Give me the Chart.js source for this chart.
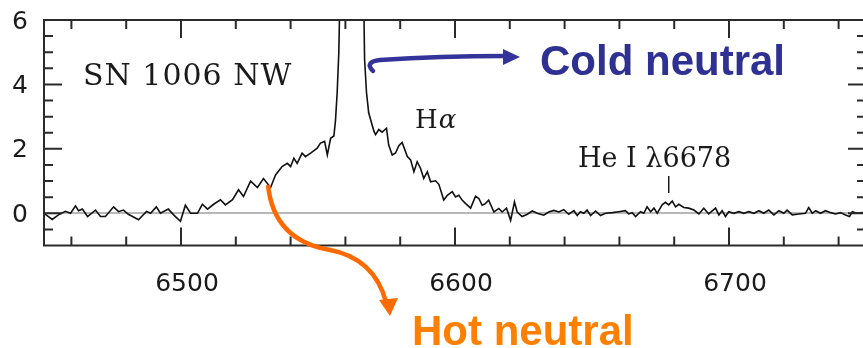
<!DOCTYPE html>
<html>
<head>
<meta charset="utf-8">
<script src="https://cdn.jsdelivr.net/npm/chart.js@4/dist/chart.umd.min.js"></script>
<style>
  html, body { margin: 0; padding: 0; background: #fff; overflow: hidden; }
  #wrap { position: absolute; left: 0; top: 0; width: 870px; height: 348px; }
</style>
</head>
<body>
<div id="wrap"><canvas id="spectrum" width="870" height="348"></canvas></div>
<script>
// SN 1006 NW spectrum around H-alpha

const wavelength = [
    6450, 6453, 6455.3, 6457.8, 6459.7, 6461.5, 6462.6, 6464, 6465.9, 6468.8,
    6470.6, 6472.4, 6475.4, 6477.2, 6479, 6480.8, 6484.5, 6487.4, 6488.9, 6491,
    6492.5, 6495.4, 6497.3, 6499.8, 6501.6, 6503.5, 6506, 6507.8, 6509.7, 6511.9,
    6514.4, 6516.2, 6518.8, 6521, 6522.8, 6525.4, 6527.9, 6530.1, 6532.7, 6534.5,
    6536.9, 6538.8, 6540, 6541.2, 6542.4, 6544.2, 6545.4, 6547.3, 6549.7, 6550.9,
    6552.4, 6553.4, 6554.6, 6555.8, 6556.4, 6557, 6557.6, 6558.5, 6560, 6562.5,
    6565, 6566.3, 6567, 6567.7, 6568.5, 6570.4, 6571, 6572.2, 6573.4, 6575,
    6575.8, 6577.1, 6578.3, 6579.5, 6580.7, 6582.6, 6583.8, 6585, 6586.2, 6587.4,
    6588.6, 6589.9, 6591.1, 6592.9, 6594.1, 6595.9, 6597.2, 6599, 6600.2, 6601.4,
    6602.6, 6603.8, 6605.7, 6607.5, 6608.7, 6609.9, 6611.1, 6612.3, 6614.2, 6616,
    6617.2, 6618.8, 6620.3, 6621.7, 6622.7, 6624.5, 6626.4, 6628.2, 6630, 6632.4,
    6634.2, 6636.1, 6637.9, 6639.7, 6641.5, 6643.4, 6644.6, 6645.8, 6647, 6648.2,
    6649.5, 6651.3, 6653.1, 6654.9, 6657.4, 6659.8, 6662.2, 6663.4, 6664.7, 6665.9,
    6667.7, 6668.9, 6670.1, 6671.4, 6672.6, 6673.8, 6675.6, 6676.8, 6678, 6679.3,
    6680.5, 6681.7, 6683.5, 6685.3, 6687.2, 6689, 6690.8, 6692.6, 6695.1, 6696.3,
    6697.5, 6698.7, 6699.9, 6701.8, 6703.6, 6705.4, 6707.2, 6709.1, 6710.9, 6712.7,
    6714.5, 6716.4, 6718.2, 6720, 6721.2, 6723.1, 6725.5, 6727.9, 6729.1, 6730.4,
    6731.6, 6733.4, 6735.2, 6737.1, 6738.9, 6740.7, 6742.5, 6744, 6745, 6746.7,
    6748.5, 6750,
];

const flux = [
    0, -0.19, -0.05, 0.06, 0, 0.23, 0.08, 0.13, -0.1, 0.1,
    -0.1, -0.1, 0.2, 0.05, 0.1, -0.03, -0.2, 0.06, 0, 0.2,
    0, 0.13, -0.05, -0.25, 0.25, 0, 0, 0.28, 0.13, 0.28,
    0.42, 0.26, 0.42, 0.73, 0.52, 1.0, 0.8, 1.08, 0.8, 1.19,
    1.45, 1.55, 1.45, 1.71, 1.55, 1.87, 1.76, 1.87, 2.02, 2.18,
    2.23, 1.81, 2.33, 2.4, 2.9, 3.75, 5.0, 9, 18, 30,
    18, 9, 4.78, 3.75, 3.12, 2.55, 2.44, 2.6, 2.52, 2.64,
    2.12, 1.81, 1.87, 2.1, 2.2, 1.76, 1.66, 1.29, 1.6, 1.4,
    1.08, 1.29, 0.98, 1.01, 0.9, 0.41, 0.56, 0.67, 0.51, 0.56,
    0.41, 0.31, 0.16, 0.53, 0.46, 0.25, 0.3, 0.41, 0.04, 0.15,
    0.04, 0.16, -0.22, 0.35, 0.04, -0.1, -0.03, 0.07, 0, -0.06,
    0.04, 0.09, 0.04, 0.11, -0.03, 0.08, -0.07, 0.05, 0, 0.1,
    -0.07, 0.07, -0.07, 0, 0.02, 0.05, 0.08, -0.02, 0.02, -0.1,
    0.05, 0, 0.2, 0.05, 0.16, 0, 0.26, 0.34, 0.26, 0.38,
    0.2, 0.28, 0.18, 0.16, 0.1, -0.02, 0.16, -0.02, 0.16, -0.05,
    0.08, -0.1, 0.05, 0, 0.05, 0, 0.05, 0, 0.08, 0,
    0.1, -0.05, 0.08, 0, 0.1, -0.05, -0.02, 0, 0.18, 0,
    0.08, 0, 0.08, 0.02, -0.02, 0.02, -0.05, -0.1, 0.05, 0,
    0.02, 0,
];

const xTickLabels = [6500, 6600, 6700];
const yTickLabels = [0, 2, 4, 6];
const heLine = 6678;

// inward ticks on all four sides, plus the frame
const frameTicks = {
    id: 'frameTicks',
    afterDraw(chart) {
        const c = chart.ctx;
        const a = chart.chartArea;
        const xs = chart.scales.x;
        const ys = chart.scales.y;
        c.save();
        c.strokeStyle = '#2a2a2a';
        c.lineWidth = 2;
        c.beginPath();
        for (let v = 6460; v < 6750; v += 20) {
            const px = xs.getPixelForValue(v);
            const len = v % 100 === 0 ? 18 : 9;
            c.moveTo(px, a.bottom); c.lineTo(px, a.bottom - len);
            c.moveTo(px, a.top); c.lineTo(px, a.top + len);
        }
        for (let v = -0.5; v < 6; v += 0.5) {
            const py = ys.getPixelForValue(v);
            const len = v % 2 === 0 ? 18 : 9;
            c.moveTo(a.left, py); c.lineTo(a.left + len, py);
            c.moveTo(a.right, py); c.lineTo(a.right - len, py);
        }
        c.stroke();
        c.strokeRect(a.left, a.top, a.right - a.left, a.bottom - a.top);
        c.restore();
    }
};

// labels and arrows
const notes = {
    id: 'notes',
    afterDraw(chart) {
        const c = chart.ctx;
        const xs = chart.scales.x;
        c.save();
        c.fillStyle = '#1a1a1a';
        c.textBaseline = 'alphabetic';
        c.textAlign = 'left';
        c.font = '30px "DejaVu Serif"';
        c.letterSpacing = '1px';
        c.fillText('SN 1006 NW', 83, 85);
        c.letterSpacing = '0px';
        c.font = '26px "DejaVu Serif"';
        c.fillText('H', 415, 128);
        const hw = c.measureText('H').width;
        c.font = 'italic 26px "DejaVu Serif"';
        c.fillText('α', 415 + hw + 1, 128);
        c.font = '27px "DejaVu Serif"';
        c.fillText('He I λ6678', 578, 167);

        const hx = xs.getPixelForValue(heLine);
        c.strokeStyle = '#1a1a1a';
        c.lineWidth = 1.5;
        c.beginPath();
        c.moveTo(hx, 176); c.lineTo(hx, 193);
        c.stroke();

        // blue arrow
        c.strokeStyle = '#333399';
        c.fillStyle = '#333399';
        c.lineWidth = 4.5;
        c.lineCap = 'round';
        c.beginPath();
        c.moveTo(373, 71);
        c.quadraticCurveTo(364, 62, 380, 60);
        c.quadraticCurveTo(440, 56, 505, 56);
        c.stroke();
        c.beginPath();
        c.moveTo(503, 49); c.lineTo(520, 57); c.lineTo(503, 65); c.closePath();
        c.fill();

        // orange arrow
        c.strokeStyle = '#ff6a00';
        c.fillStyle = '#ff6a00';
        c.lineWidth = 4.5;
        c.lineCap = 'butt';
        c.beginPath();
        c.moveTo(268, 185);
        c.bezierCurveTo(272, 225, 295, 244, 330, 250);
        c.bezierCurveTo(362, 256, 379, 276, 386, 302);
        c.stroke();
        c.beginPath();
        c.moveTo(379, 300); c.lineTo(390, 316); c.lineTo(398, 298); c.closePath();
        c.fill();

        c.font = 'bold 42px "Liberation Sans", Arial, sans-serif';
        c.fillStyle = '#2e3192';
        c.fillText('Cold neutral', 540, 75);
        c.fillStyle = '#ff8000';
        c.fillText('Hot neutral', 412, 345);
        c.restore();
    }
};

const spectrumData = {
    datasets: [{
        label: 'SN 1006 NW',
        data: wavelength.map((w, i) => ({ x: w, y: flux[i] })),
        borderColor: '#111',
        borderWidth: 1.6,
        pointRadius: 0,
        tension: 0,
        fill: false,
    }]
};

const spectrumConfig = {
    type: 'line',
    data: spectrumData,
    options: {
        responsive: false,
        animation: false,
        devicePixelRatio: 1,
        layout: { padding: { top: 20, right: 4, left: 0, bottom: 0 } },
        plugins: { legend: { display: false }, tooltip: { enabled: false } },
        scales: {
            x: {
                type: 'linear',
                min: 6450,
                max: 6750,
                afterBuildTicks: scale => { scale.ticks = xTickLabels.map(v => ({ value: v })); },
                afterFit: scale => {
                    scale.height = 102.5;
                    scale.paddingLeft = 0;
                    scale.paddingRight = 0;
                },
                grid: { display: false, drawTicks: false },
                border: { display: false },
                ticks: {
                    padding: 24,
                    labelOffset: 6,
                    maxRotation: 0,
                    color: '#1a1a1a',
                    font: { family: 'DejaVu Sans', size: 25 },
                    callback: v => String(v),
                },
            },
            y: {
                min: -1,
                max: 6,
                afterBuildTicks: scale => { scale.ticks = yTickLabels.map(v => ({ value: v })); },
                afterFit: scale => {
                    scale.width = 44;
                    scale.paddingTop = 0;
                    scale.paddingBottom = 0;
                },
                grid: {
                    drawTicks: false,
                    lineWidth: 2,
                    color: ctx => (ctx.tick && ctx.tick.value === 0 ? '#b8b8b8' : 'rgba(0,0,0,0)'),
                },
                border: { display: false },
                ticks: {
                    padding: 16,
                    labelOffset: 2,
                    color: '#1a1a1a',
                    font: { family: 'DejaVu Sans', size: 25 },
                    callback: v => String(v),
                },
            },
        },
    },
    plugins: [frameTicks, notes],
};

const spectrumChart = new Chart(
    document.getElementById('spectrum'),
    spectrumConfig
);
</script>
</body>
</html>
